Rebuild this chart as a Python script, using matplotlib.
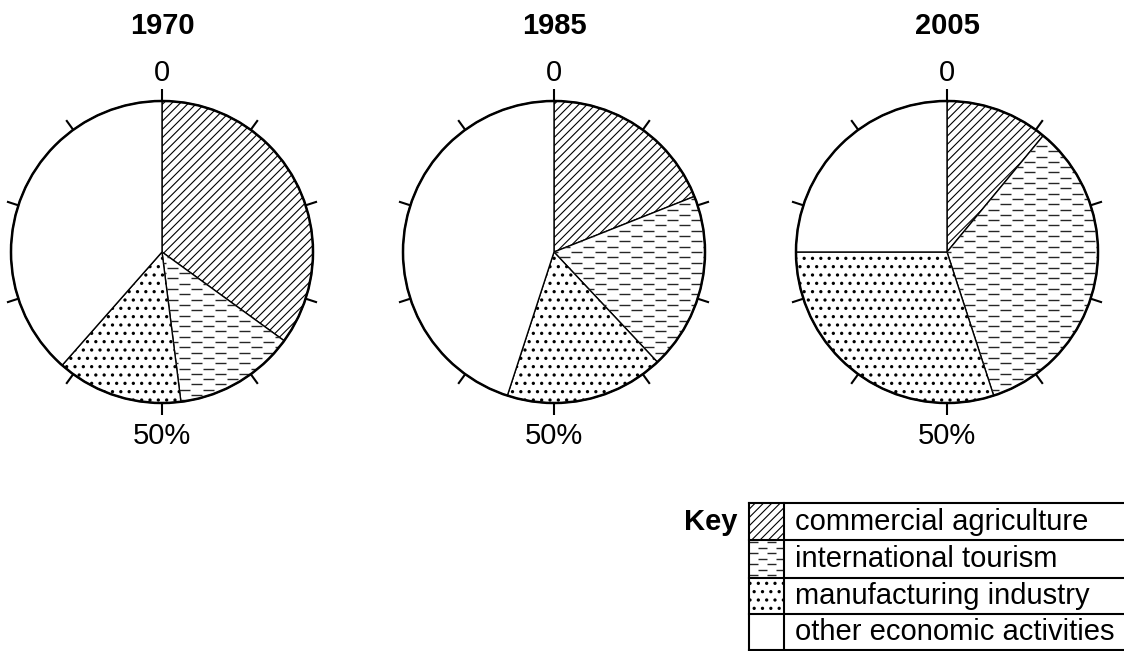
import numpy as np
import matplotlib.pyplot as plt
from matplotlib.patches import Rectangle, Circle
from matplotlib.collections import LineCollection

plt.rcParams['font.family'] = ['Liberation Sans', 'DejaVu Sans']
plt.rcParams['hatch.linewidth'] = 0.8

# share of each activity (%), clockwise from 0
years = ["1970", "1985", "2005"]
categories = ["commercial agriculture", "international tourism",
              "manufacturing industry", "other economic activities"]
agriculture = [35, 19, 11]
tourism = [13, 19, 34]
manufacturing = [13.5, 17, 30]
other = [38.5, 45, 25]

hatches = ["////", "", "..", ""]

W, H = 1124, 651


def Y(py):
    # pixel row (from top) -> data y
    return H - py


def dash_segments(x0, x1, y0, y1, step=5.3, dash=11, gap=13):
    # staggered rows of short horizontal dashes (tourism pattern)
    period = dash + gap
    segs = []
    for i, y in enumerate(np.arange(y0 + step / 2, y1, step)):
        off = (i % 2) * period / 2
        for x in np.arange(x0 - period + off, x1, period):
            a, b = max(x, x0), min(x + dash, x1)
            if b > a:
                segs.append([(a, y), (b, y)])
    return segs


def style_patch(p, h):
    p.set_hatch(h)
    # slightly bolder dots for the manufacturing pattern
    if h == ".." and hasattr(p, "set_hatch_linewidth"):
        p.set_hatch_linewidth(1.15)


fig = plt.figure(figsize=(W / 100, H / 100), dpi=100)
ax = fig.add_axes([0, 0, 1, 1])

centers = [162, 554, 947]
cy = Y(252)
R = 151

for cx, yr, vals in zip(centers, years, zip(agriculture, tourism, manufacturing, other)):
    wedges, _ = ax.pie(vals, center=(cx, cy), radius=R, startangle=90,
                       counterclock=False, colors=["white"] * 4,
                       wedgeprops=dict(edgecolor="black", linewidth=1))
    for w, h in zip(wedges, hatches):
        style_patch(w, h)
    lc = LineCollection(dash_segments(cx - R, cx + R, cy - R, cy + R),
                        colors="0.15", linewidths=1)
    lc.set_clip_path(wedges[1])
    ax.add_collection(lc)
    ax.add_patch(Circle((cx, cy), R, fill=False, edgecolor="black", lw=1.8, zorder=5))

    # tick marks every 10%
    for k in range(10):
        a = np.deg2rad(90 - 36 * k)
        ax.plot([cx + R * np.cos(a), cx + (R + 12) * np.cos(a)],
                [cy + R * np.sin(a), cy + (R + 12) * np.sin(a)],
                color="black", lw=1.5, solid_capstyle="butt")

    ax.text(cx, Y(26), yr, ha="center", va="center", fontsize=21, fontweight="bold")
    ax.text(cx, Y(73), "0", ha="center", va="center", fontsize=21)
    ax.text(cx, Y(436), "50%", ha="center", va="center", fontsize=21)

# key table
left, mid, right = 749, 784, W
rows = [503, 540, 578, 614, 650]

for i, (lab, h) in enumerate(zip(categories, hatches)):
    top, bot = rows[i], rows[i + 1]
    sw = Rectangle((left, Y(bot)), mid - left, bot - top, facecolor="white",
                   edgecolor="black", lw=0)
    style_patch(sw, h)
    ax.add_patch(sw)
    if i == 1:
        lc = LineCollection(dash_segments(left, mid, Y(bot), Y(top), step=5.5, dash=9, gap=9),
                            colors="0.15", linewidths=1)
        ax.add_collection(lc)
    ax.text(795, Y((top + bot) / 2), lab, ha="left", va="center", fontsize=21)

for r in rows:
    ax.plot([left, right], [Y(r), Y(r)], color="black", lw=1.5)
for xv in [left, mid]:
    ax.plot([xv, xv], [Y(rows[0]), Y(rows[-1])], color="black", lw=1.5)

ax.text(737, Y((rows[0] + rows[1]) / 2), "Key", ha="right", va="center",
        fontsize=21, fontweight="bold")

ax.set_xlim(0, W)
ax.set_ylim(0, H)
ax.set_aspect("equal")
ax.axis("off")

plt.savefig("out.png", dpi=100)
